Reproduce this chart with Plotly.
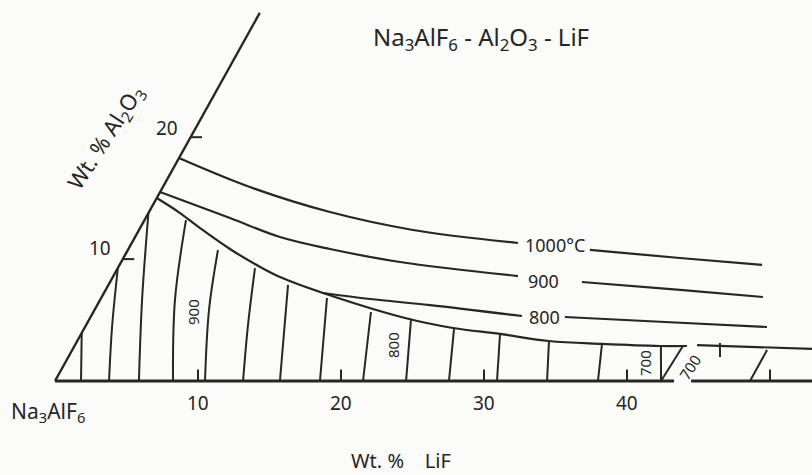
import plotly.graph_objects as go

# ---- data: compositions (wt% LiF, wt% Al2O3) ----
liq1000_lif_a = [0.0, 6.09, 12.66, 19.16, 27.01]
liq1000_al_a = [18.29, 15.91, 13.86, 12.39, 11.32]
liq1000_lif_b = [32.31, 38.92, 44.93]
liq1000_al_b = [10.75, 10.09, 9.52]

liq900_lif_a = [0.0, 5.90, 10.13, 14.10, 19.50, 28.29]
liq900_al_a = [15.50, 13.37, 11.81, 10.83, 9.76, 8.61]
liq900_lif_b = [33.0, 40.17, 46.24]
liq900_al_b = [8.12, 7.47, 6.89]

liq800_lif_a = [15.32, 18.84, 23.27, 30.13]
liq800_al_a = [7.22, 6.73, 6.23, 5.33]
liq800_lif_b = [33.17, 40.36, 47.69]
liq800_al_b = [5.25, 4.84, 4.43]

boundary_lif = [0.0, 2.21, 4.19, 7.10, 9.43, 11.69, 15.32, 22.03, 25.77, 29.29, 32.99, 36.81, 40.94, 42.83]
boundary_al = [15.01, 13.78, 12.55, 10.83, 9.60, 8.53, 7.22, 5.17, 4.35, 3.86, 3.28, 3.04, 2.87, 2.87]
boundary2_lif = [43.50, 51.69]
boundary2_al = [2.95, 2.63]

# isotherm hatch lines in the cryolite field (bottom -> top)
hatch_lif = [
    [1.82, 0.0],
    [3.78, 1.89, 0.0],
    [5.87, 2.94, 0.0],
    [8.25, 5.24, 2.90],
    [10.49, 8.01, 6.30],
    [13.15, 11.32, 9.59],
    [15.73, 12.56],
    [18.53, 15.79],
    [21.54, 19.41],
    [24.55, 22.52],
    [27.55, 25.88],
    [30.91, 29.29],
    [34.41, 32.99],
    [37.97, 36.81],
    [42.38, 41.05],
    [42.38, 42.55],
    [48.60, 48.59],
    [45.57, 45.02],
]
hatch_al = [
    [0.0, 3.94],
    [0.0, 4.43, 9.27],
    [0.0, 6.64, 13.78],
    [0.0, 6.64, 13.20],
    [0.0, 5.82, 10.75],
    [0.0, 4.59, 9.27],
    [0.0, 7.88],
    [0.0, 6.81],
    [0.0, 5.66],
    [0.0, 5.00],
    [0.0, 4.27],
    [0.0, 3.86],
    [0.0, 3.28],
    [0.0, 3.04],
    [0.0, 2.79],
    [0.0, 2.87],
    [0.0, 2.54],
    [1.97, 3.12],
]

lif_ticks = [10, 20, 30, 40, 50]
lif_tick_labels = ["10", "20", "30", "40", ""]
al_ticks = [10, 20]
al_tick_labels = ["10", "20"]
al_axis_top = 30.2
base_segments_lif = [[0.0, 43.29], [44.48, 53.2]]

# ---- drawing geometry (the printed diagram's axes) ----
SHEAR = 0.4741   # horizontal shift of the Al2O3 axis per % Al2O3
YS = 0.8524      # vertical height per % Al2O3
INK = "#262626"
BG = "#fbfbf9"
FONT = "Noto Sans"


def to_xy(lif, al):
    return [l + SHEAR * a for l, a in zip(lif, al)], [YS * a for a in al]


fig = go.Figure()


def add_line(lif, al, width=2.2, shape="spline"):
    x, y = to_xy(lif, al)
    fig.add_trace(go.Scatter(x=x, y=y, mode="lines",
                             line=dict(color=INK, width=width, shape=shape),
                             hoverinfo="skip", showlegend=False))


# axes of the ternary corner
for seg in base_segments_lif:
    add_line(seg, [0, 0], width=3, shape="linear")
add_line([0, 0], [0, al_axis_top], width=2.4, shape="linear")
for t in lif_ticks:
    add_line([t, t - SHEAR * 0.95], [0, 0.95], width=2, shape="linear")
for t in al_ticks:
    add_line([0, 0.8], [t, t], width=2, shape="linear")

# liquidus isotherms and boundary curves
add_line(liq1000_lif_a, liq1000_al_a)
add_line(liq1000_lif_b, liq1000_al_b)
add_line(liq900_lif_a, liq900_al_a)
add_line(liq900_lif_b, liq900_al_b)
add_line(liq800_lif_a, liq800_al_a)
add_line(liq800_lif_b, liq800_al_b)
add_line(boundary_lif, boundary_al)
add_line(boundary2_lif, boundary2_al, shape="linear")
for hl, ha in zip(hatch_lif, hatch_al):
    add_line(hl, ha, width=2.0)

W, H = 812, 475


def px(xp, yp):
    return xp / W, 1 - yp / H


def note(text, xp, yp, size=16, angle=0):
    x, y = px(xp, yp)
    fig.add_annotation(x=x, y=y, xref="paper", yref="paper", text=text,
                       showarrow=False, textangle=angle,
                       font=dict(family=FONT, size=size, color=INK),
                       xanchor="center", yanchor="middle")


note("Na<sub>3</sub>AlF<sub>6</sub> - Al<sub>2</sub>O<sub>3</sub> - LiF", 481, 38, size=24)
note("Wt. % Al<sub>2</sub>O<sub>3</sub>", 106, 138, size=22, angle=-57)
note("Na<sub>3</sub>AlF<sub>6</sub>", 48, 412, size=21)
note("Wt. %&nbsp;&nbsp;&nbsp;&nbsp;LiF", 401, 460, size=20)

for t, lab in zip(lif_ticks, lif_tick_labels):
    if lab:
        x, _ = to_xy([t], [0])
        fig.add_annotation(x=x[0], y=0, xref="x", yref="y", text=lab, showarrow=False,
                           yshift=-22, font=dict(family=FONT, size=19, color=INK))
note(al_tick_labels[1], 167, 128, size=19)
note(al_tick_labels[0], 100, 248, size=19)

note("1000°C", 555, 245, size=18)
note("900", 543, 281, size=18)
note("800", 544, 317, size=18)
note("900", 193, 312, size=15, angle=-90)
note("800", 393, 345, size=15, angle=-90)
note("700", 645, 363, size=15, angle=-90)
note("700", 690, 367, size=15, angle=-57)

fig.update_layout(
    width=W, height=H,
    margin=dict(l=0, r=0, t=0, b=0),
    paper_bgcolor=BG, plot_bgcolor=BG,
    xaxis=dict(range=[-55 / 14.3, (W - 55) / 14.3], visible=False, fixedrange=True),
    yaxis=dict(range=[(381 - H) / 14.3, 381 / 14.3], visible=False, fixedrange=True),
    showlegend=False,
)

fig.write_html("out.html", config={"displayModeBar": False},
               post_script="document.body.style.margin='0';document.body.style.overflow='hidden';")
